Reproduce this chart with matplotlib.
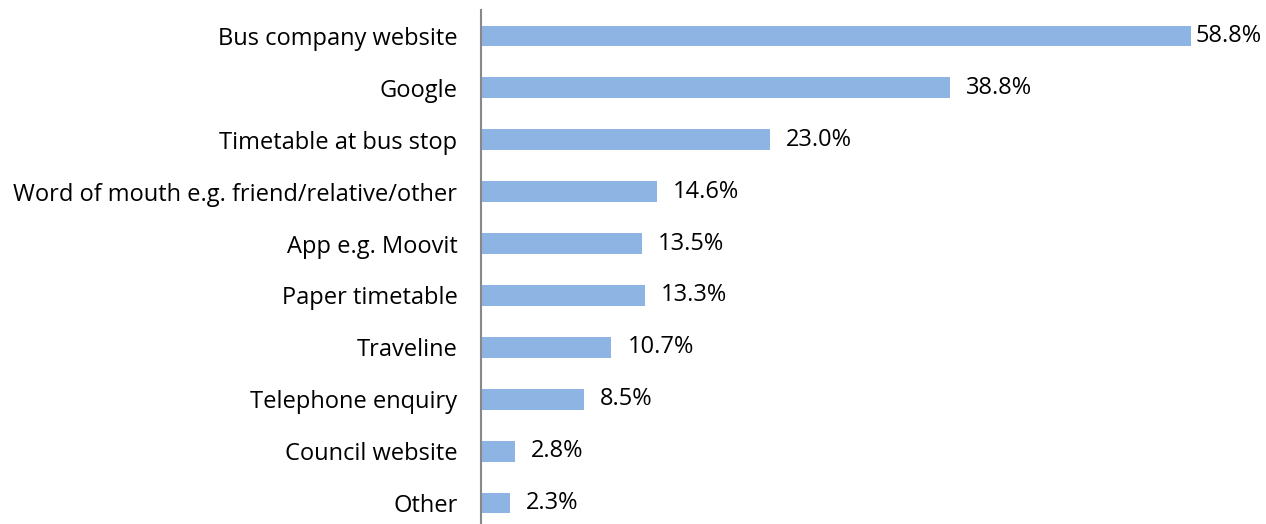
import matplotlib
matplotlib.use("Agg")
import matplotlib.pyplot as plt

categories = ["Bus company website", "Google", "Timetable at bus stop",
              "Word of mouth e.g. friend/relative/other", "App e.g. Moovit",
              "Paper timetable", "Traveline", "Telephone enquiry",
              "Council website", "Other"]
# bar lengths as drawn in the picture
bar_values = [58.8, 38.8, 23.9, 14.6, 13.3, 13.6, 10.8, 8.5, 2.8, 2.4]
# data labels as printed in the picture
value_labels = ["58.8%", "38.8%", "23.0%", "14.6%", "13.5%",
                "13.3%", "10.7%", "8.5%", "2.8%", "2.3%"]

plt.rcParams['font.family'] = ['Open Sans', 'DejaVu Sans']

W, H = 1266, 524
fig = plt.figure(figsize=(W / 100, H / 100), dpi=100)
left = 481 / W
bottom = -5 / H
top = 10 / H
ax = fig.add_axes([left, bottom, 1 - left, 1 - top - bottom])

FS = 17
y = list(range(len(categories)))
ax.barh(y, bar_values, height=0.4, color="#8EB4E3", edgecolor="none")
ax.set_ylim(len(categories) - 0.5, -0.5)
ax.set_xlim(0, 65)
ax.set_yticks(y)
ax.set_yticklabels(categories, fontsize=FS, color="#000000")
ax.tick_params(axis="y", length=0, pad=17)
ax.set_xticks([])
for s in ["top", "right", "bottom"]:
    ax.spines[s].set_visible(False)
ax.spines["left"].set_color("#888888")
ax.spines["left"].set_linewidth(1.5)

for yi, v, lab in zip(y, bar_values, value_labels):
    off = 3 if v > 55 else 11.5
    ax.annotate(lab, (v, yi), xytext=(off, 0), textcoords="offset points",
                va="center", ha="left", fontsize=FS, color="#000000")

fig.savefig("out.png", dpi=100)
